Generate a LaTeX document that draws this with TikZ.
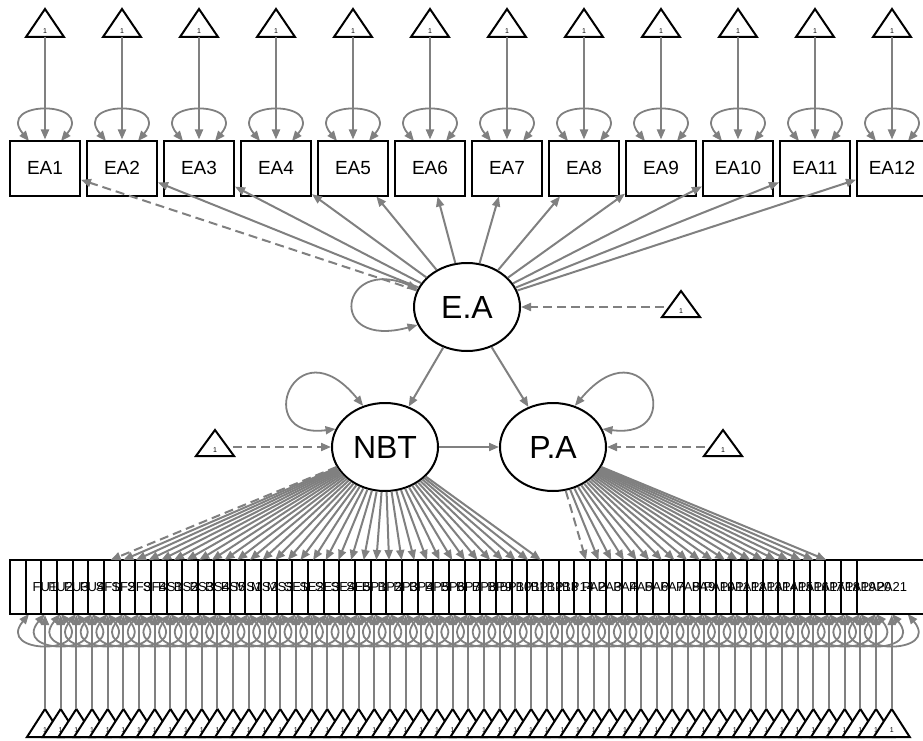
\documentclass[tikz,border=0pt]{standalone}
\usepackage{fontspec}
\setmainfont{Liberation Sans}
\usetikzlibrary{arrows.meta,shapes.geometric,calc}

\definecolor{edgegray}{HTML}{808080}

\tikzset{
  lat/.style={ellipse, draw, line width=2pt, fill=white, minimum width=106pt, minimum height=88pt, inner sep=0pt, font=\fontsize{32}{32}\selectfont},
  obs/.style={draw, line width=2pt, fill=white, minimum width=70pt, minimum height=55pt, inner sep=0pt, font=\fontsize{19}{19}\selectfont},
  ind/.style={draw, line width=2pt, fill=white, minimum width=70pt, minimum height=54pt, inner sep=0pt},
  indlab/.style={inner sep=0pt, font=\fontsize{13}{13}\selectfont},
  tri/.style={draw, line width=2pt, fill=white, line join=miter},
  one/.style={inner sep=0pt, font=\fontsize{7}{7}\selectfont},
  load/.style={draw=edgegray, line width=2pt, -{Triangle[length=10pt,width=8pt]}},
  fixed/.style={load, dash pattern=on 9pt off 5pt},
  var/.style={draw=edgegray, line width=1.8pt, {Triangle[length=10pt,width=8pt]}-{Triangle[length=10pt,width=8pt]}}
}

\begin{document}
\begin{tikzpicture}[x=1pt,y=-1pt]
\useasboundingbox (0,0) rectangle (923,741);

% latent variables
\node[lat] (ea) at (467,307) {E.A};
\node[lat] (nbt) at (385,447) {NBT};
\node[lat] (pa) at (553,447) {P.A};

% E.A items with their intercepts
\foreach \i in {1,...,12}{
  \pgfmathsetmacro\cx{45+77*(\i-1)}
  \draw[var] (\cx-16,141) .. controls (\cx-50,100) and (\cx+50,100) .. (\cx+16,141);
  \node[obs] (x\i) at (\cx,168) {EA\i};
  \draw[tri] (\cx-19,37) -- (\cx,9) -- (\cx+19,37) -- cycle;
  \node[one] at (\cx,31) {1};
  \coordinate (ti\i) at (\cx,37);
}
\foreach \i in {1,...,12}
  \draw[load] (ti\i) -- (x\i);

\draw[fixed] (ea) -- (x1);
\foreach \i in {2,...,12}
  \draw[load] (ea) -- (x\i);

% NBT and P.A items
\foreach \i in {0,...,54}{
  \pgfmathsetmacro\cx{45+15.68*\i}
  \draw[var] (\cx-16,614) .. controls (\cx-50,655) and (\cx+50,655) .. (\cx+16,614);
}
\foreach \i in {0,...,54}{
  \pgfmathsetmacro\cx{45+15.68*\i}
  \node[ind] (y\i) at (\cx,587) {};
}
\foreach \i/\lab in {0/FU1,1/FU2,2/FU3,3/FU4,4/SF1,5/SF2,6/SF3,7/SF4,
    8/BS1,9/BS2,10/BS3,11/BS4,12/BS5,13/MS1,14/MS2,15/MS3,
    16/SE1,17/SE2,18/SE3,19/SE4,20/SE5,21/BP1,22/BP2,23/BP3,
    24/BP4,25/BP5,26/BP6,27/BP7,28/BP8,29/BP9,30/BP10,31/BP11,
    32/BP12,33/BP13,34/BP14}
  \node[indlab] at (y\i) {\lab};
\foreach \i in {35,...,54}{
  \pgfmathtruncatemacro\k{\i-33}
  \node[indlab] at (y\i) {PA\k};
}

\foreach \i in {0,...,54}{
  \pgfmathsetmacro\cx{45+15.68*\i}
  \draw[tri] (\cx-18,737) -- (\cx,709) -- (\cx+18,737) -- cycle;
  \coordinate (bi\i) at (\cx,709);
}
\foreach \i in {0,...,54}{
  \pgfmathsetmacro\cx{45+15.68*\i}
  \node[one] at (\cx,730) {1};
  \draw[load] (bi\i) -- (y\i);
}

% loadings on the lower row
\foreach \i in {0,...,34}
  \coordinate (t\i) at ($(nbt)!0.807!(y\i)$);
\foreach \i in {35,...,54}
  \coordinate (t\i) at ($(pa)!0.807!(y\i)$);
\draw[fixed] (nbt) -- (t0);
\foreach \i in {1,...,34}
  \draw[load] (nbt) -- (t\i);
\draw[fixed] (pa) -- (t35);
\foreach \i in {36,...,54}
  \draw[load] (pa) -- (t\i);

% structural paths
\draw[load] (ea) -- (nbt);
\draw[load] (ea) -- (pa);
\draw[load] (nbt) -- (pa);

% latent variances
\draw[var] (ea.200) .. controls (325,350) and (340,255) .. (ea.160);
\draw[var] (nbt.160) .. controls (250,440) and (295,322) .. (nbt.118);
\draw[var] (pa.20) .. controls (690,440) and (645,322) .. (pa.62);

% latent intercepts
\draw[tri] (662,317) -- (681,291) -- (700,317) -- cycle;
\node[one] at (681,311) {1};
\coordinate (eai) at (664,307);
\draw[tri] (196,456) -- (215,430) -- (234,456) -- cycle;
\node[one] at (215,450) {1};
\coordinate (nbti) at (233,447);
\draw[tri] (704,456) -- (723,430) -- (742,456) -- cycle;
\node[one] at (723,450) {1};
\coordinate (pai) at (705,447);
\draw[fixed] (eai) -- (ea);
\draw[fixed] (nbti) -- (nbt);
\draw[fixed] (pai) -- (pa);
\end{tikzpicture}
\end{document}
